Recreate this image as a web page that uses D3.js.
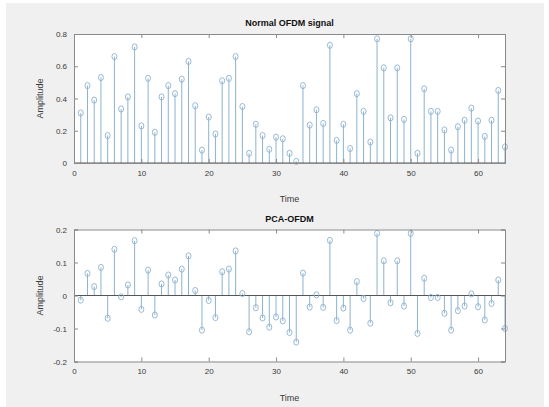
<!DOCTYPE html>
<html>
<head>
<meta charset="utf-8">
<script src="https://cdn.jsdelivr.net/npm/d3@7"></script>
<style>
  body { margin: 0; background: #fff; }
  svg { display: block; }
  text { font-family: "Liberation Sans", Arial, sans-serif; }
</style>
</head>
<body>
<svg id="chart"></svg>
<script>
// Sample values (sample index 1..64)
var normalSignal = [0.31, 0.48, 0.39, 0.53, 0.17, 0.66, 0.335, 0.41, 0.72, 0.23,
  0.525, 0.19, 0.41, 0.48, 0.43, 0.52, 0.63, 0.355, 0.08, 0.285,
  0.18, 0.51, 0.525, 0.66, 0.35, 0.06, 0.24, 0.17, 0.085, 0.16,
  0.15, 0.06, 0.01, 0.48, 0.235, 0.33, 0.245, 0.73, 0.14, 0.24,
  0.09, 0.43, 0.32, 0.13, 0.77, 0.59, 0.28, 0.59, 0.27, 0.77,
  0.06, 0.46, 0.32, 0.32, 0.205, 0.08, 0.225, 0.265, 0.34, 0.26,
  0.165, 0.265, 0.45, 0.10];
var pcaSignal = [-0.014, 0.067, 0.027, 0.085, -0.069, 0.14, -0.004, 0.032, 0.166, -0.042,
  0.077, -0.059, 0.035, 0.062, 0.047, 0.08, 0.12, 0.015, -0.105, -0.015,
  -0.067, 0.072, 0.08, 0.135, 0.006, -0.11, -0.037, -0.068, -0.096, -0.065,
  -0.077, -0.112, -0.141, 0.068, -0.035, 0.002, -0.036, 0.167, -0.076, -0.038,
  -0.105, 0.042, -0.009, -0.084, 0.188, 0.105, -0.022, 0.105, -0.032, 0.188,
  -0.115, 0.052, -0.006, -0.006, -0.054, -0.105, -0.046, -0.032, 0.005, -0.034,
  -0.074, -0.024, 0.047, -0.1];
var xTicks = [0, 10, 20, 30, 40, 50, 60];
var normalYTicks = [0, 0.2, 0.4, 0.6, 0.8];
var pcaYTicks = [-0.2, -0.1, 0, 0.1, 0.2];

var config = {
  svgWidth: 549,
  svgHeight: 407,
  axLeft: 74,
  axRight: 505,
  xMax: 64,
  tickLength: 4,
  stemColor: '#8db2cf',
  axisColor: '#8a8a8a',
  labelColor: '#3a3a3a',
  tickFontSize: 8,
  titleFontSize: 9,
};

var svg = d3.select('#chart')
  .attr('width', config.svgWidth)
  .attr('height', config.svgHeight);

// Figure background (MATLAB grey)
svg.append('rect')
  .attr('x', 6).attr('y', 3)
  .attr('width', 538).attr('height', 404)
  .attr('fill', '#f0f0f0');

var x = d3.scaleLinear()
  .domain([0, config.xMax])
  .range([config.axLeft, config.axRight]);

function drawPanel(values, yDomain, yTicks, top, bottom, title) {
  var y = d3.scaleLinear().domain(yDomain).range([bottom, top]);
  var g = svg.append('g');

  g.append('rect')
    .attr('x', config.axLeft).attr('y', top)
    .attr('width', config.axRight - config.axLeft).attr('height', bottom - top)
    .attr('fill', '#fff');

  // stems
  g.selectAll('.stem').data(values).enter().append('line')
    .attr('x1', function(d, i) { return x(i + 1); })
    .attr('x2', function(d, i) { return x(i + 1); })
    .attr('y1', y(0))
    .attr('y2', function(d) { return y(d); })
    .attr('stroke', config.stemColor)
    .attr('stroke-width', 1);

  // baseline
  g.append('line')
    .attr('x1', config.axLeft).attr('x2', config.axRight)
    .attr('y1', y(0)).attr('y2', y(0))
    .attr('stroke', '#555').attr('stroke-width', 1);

  // markers
  g.selectAll('.marker').data(values).enter().append('ellipse')
    .attr('cx', function(d, i) { return x(i + 1); })
    .attr('cy', function(d) { return y(d); })
    .attr('rx', 2.5).attr('ry', 3.1)
    .attr('fill', 'none')
    .attr('stroke', config.stemColor)
    .attr('stroke-width', 0.9);

  // axes, ticks pointing inward on all four sides
  var bottomAxis = g.append('g')
    .attr('transform', 'translate(0,' + bottom + ')')
    .call(d3.axisBottom(x).tickValues(xTicks).tickSize(-config.tickLength).tickPadding(7).tickFormat(d3.format('d')));
  var topAxis = g.append('g')
    .attr('transform', 'translate(0,' + top + ')')
    .call(d3.axisTop(x).tickValues(xTicks).tickSize(-config.tickLength).tickFormat(''));
  var leftAxis = g.append('g')
    .attr('transform', 'translate(' + config.axLeft + ',0)')
    .call(d3.axisLeft(y).tickValues(yTicks).tickSize(-config.tickLength).tickPadding(7).tickFormat(function(d) { return String(+d.toFixed(2)); }));
  var rightAxis = g.append('g')
    .attr('transform', 'translate(' + config.axRight + ',0)')
    .call(d3.axisRight(y).tickValues(yTicks).tickSize(-config.tickLength).tickFormat(''));

  [bottomAxis, topAxis, leftAxis, rightAxis].forEach(function(a) {
    a.select('.domain').attr('stroke', config.axisColor);
    a.selectAll('line').attr('stroke', config.axisColor);
    a.selectAll('text')
      .attr('fill', config.labelColor)
      .attr('font-size', config.tickFontSize + 'px')
      .attr('font-family', '"Liberation Sans", Arial, sans-serif');
  });

  // title
  g.append('text')
    .attr('x', (config.axLeft + config.axRight) / 2)
    .attr('y', top - 8)
    .attr('text-anchor', 'middle')
    .attr('font-size', config.titleFontSize + 'px')
    .attr('font-weight', 'bold')
    .attr('fill', '#111')
    .text(title);

  // x label
  g.append('text')
    .attr('x', (config.axLeft + config.axRight) / 2)
    .attr('y', bottom + 39)
    .attr('text-anchor', 'middle')
    .attr('font-size', '9px')
    .attr('fill', config.labelColor)
    .text('Time');

  // y label
  g.append('text')
    .attr('transform', 'translate(43,' + ((top + bottom) / 2) + ') rotate(-90)')
    .attr('text-anchor', 'middle')
    .attr('font-size', '9px')
    .attr('fill', config.labelColor)
    .text('Amplitude');
}

drawPanel(normalSignal, [0, 0.8], normalYTicks, 34, 163, 'Normal OFDM signal');
drawPanel(pcaSignal, [-0.2, 0.2], pcaYTicks, 229.5, 361.5, 'PCA-OFDM');
</script>
</body>
</html>
